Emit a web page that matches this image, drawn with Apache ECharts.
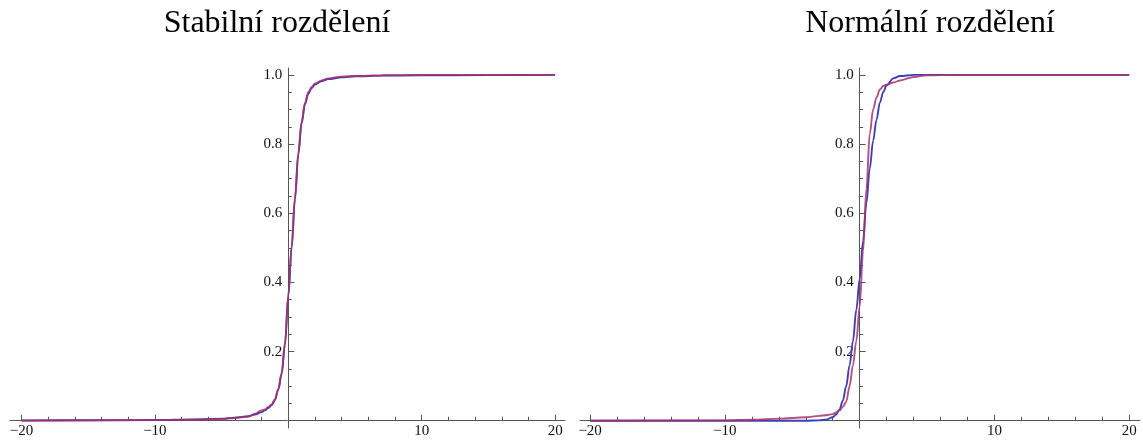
<!DOCTYPE html>
<html>
<head>
<meta charset="utf-8">
<title>Stabilní vs normální rozdělení</title>
<script src="https://cdn.jsdelivr.net/npm/echarts@6/dist/echarts.min.js"></script>
<style>
  html, body { margin: 0; padding: 0; background: #fff; }
  #chart { width: 1143px; height: 443px; }
</style>
</head>
<body>
<div id="chart"></div>
<script>
'use strict';

// levý graf - stabilní rozdělení
const stabX = [-20, -15, -10, -7, -5, -4, -3, -2.5, -2, -1.75, -1.5, -1.25, -1, -0.75, -0.5, -0.25, 0,
  0.25, 0.5, 0.75, 1, 1.25, 1.5, 1.75, 2, 2.5, 3, 4, 5, 7, 10, 15, 20];
const stabTheory = [0.001, 0.0015, 0.002, 0.004, 0.006, 0.009, 0.013, 0.018, 0.025, 0.03, 0.037, 0.045, 0.06,
  0.09, 0.135, 0.22, 0.36, 0.5, 0.64, 0.77, 0.86, 0.915, 0.945, 0.962, 0.972, 0.982, 0.988, 0.993, 0.996,
  0.998, 0.999, 0.9995, 1.0];
const stabSample = [0, 0.001, 0.002, 0.003, 0.005, 0.008, 0.012, 0.02, 0.03, 0.033, 0.04, 0.047, 0.062,
  0.092, 0.138, 0.225, 0.365, 0.505, 0.645, 0.775, 0.865, 0.92, 0.95, 0.965, 0.975, 0.984, 0.99, 0.995, 0.997,
  0.999, 1, 1, 1];

// pravý graf - normální rozdělení
const normX = [-20, -10, -8, -6, -4, -3, -2.5, -2, -1.75, -1.5, -1.25, -1, -0.75, -0.5, -0.25, 0,
  0.25, 0.5, 0.75, 1, 1.25, 1.5, 1.75, 2, 2.5, 3, 4, 5, 7, 10, 20];
const normTheory = [0, 0, 0, 0, 0, 0.001, 0.003, 0.01, 0.018, 0.032, 0.058, 0.1, 0.16, 0.23, 0.32, 0.41,
  0.52, 0.63, 0.73, 0.81, 0.87, 0.92, 0.95, 0.97, 0.99, 0.997, 1, 1, 1, 1, 1];
const normSample = [0, 0.001, 0.003, 0.006, 0.01, 0.014, 0.016, 0.019, 0.024, 0.03, 0.04, 0.055, 0.1, 0.16,
  0.23, 0.33, 0.49, 0.67, 0.83, 0.9, 0.935, 0.958, 0.968, 0.972, 0.978, 0.984, 0.994, 0.999, 1, 1, 1];

// popisky os
const titles = ['Stabilní rozdělení', 'Normální rozdělení'];
const xMajor = [-20, -10, 10, 20];
const xMinor = [-18, -16, -14, -12, -8, -6, -4, -2, 2, 4, 6, 8, 12, 14, 16, 18];
const yMajor = [0.2, 0.4, 0.6, 0.8, 1.0];
const yMinor = [0.05, 0.1, 0.15, 0.25, 0.3, 0.35, 0.45, 0.5, 0.55, 0.65, 0.7, 0.75, 0.85, 0.9, 0.95];

const SERIF = 'Liberation Serif, Times New Roman, serif';
const AXIS_COLOR = '#555';
const BLUE = '#3f3fb5';
const RED = '#a3336b';
const Y_MIN = -0.021, Y_MAX = 1.02;
const TOP = 68, HEIGHT = 360;

function zip(xs, ys) {
  return xs.map(function (x, i) { return [x, ys[i]]; });
}

// pozice dvou panelů
const panels = [
  { left: 10, width: 555, xmin: -20.86, xmax: 20.74, titleX: 272 },
  { left: 580, width: 560, xmin: -20.75, xmax: 20.8, titleX: 925 }
];

const grids = [];
const xAxes = [];
const yAxes = [];

// osy se kříží v nule -> posun přes offset (popisky jdou s osou)
function addAxes(p, minor) {
  const gi = grids.length;
  const zeroX = p.width * (-p.xmin) / (p.xmax - p.xmin);
  const zeroY = HEIGHT * (-Y_MIN) / (Y_MAX - Y_MIN);
  grids.push({ left: p.left, width: p.width, top: TOP, height: HEIGHT, outerBoundsMode: 'none' });
  xAxes.push({
    gridIndex: gi, type: 'value', min: p.xmin, max: p.xmax,
    position: 'bottom', offset: -zeroY,
    splitLine: { show: false },
    axisLine: { show: !minor, onZero: false, lineStyle: { color: AXIS_COLOR, width: 1 } },
    axisTick: {
      show: true, inside: true, length: minor ? 4 : 6,
      customValues: minor ? xMinor : xMajor,
      lineStyle: { color: AXIS_COLOR }
    },
    axisLabel: {
      show: !minor, customValues: xMajor, margin: 3,
      fontFamily: SERIF, fontSize: 15, color: '#111',
      formatter: function (v) { return String(v).replace('-', '\u2212'); }
    }
  });
  yAxes.push({
    gridIndex: gi, type: 'value', min: Y_MIN, max: Y_MAX,
    position: 'left', offset: -zeroX,
    splitLine: { show: false },
    axisLine: { show: !minor, onZero: false, lineStyle: { color: AXIS_COLOR, width: 1 } },
    axisTick: {
      show: true, inside: true, length: minor ? 3.5 : 6,
      customValues: minor ? yMinor : yMajor,
      lineStyle: { color: AXIS_COLOR }
    },
    axisLabel: {
      show: !minor, customValues: yMajor, margin: 6,
      fontFamily: SERIF, fontSize: 15, color: '#111',
      formatter: function (v) { return v.toFixed(1); }
    }
  });
  return gi;
}

const g0 = addAxes(panels[0], false);
const g1 = addAxes(panels[1], false);
addAxes(panels[0], true);
addAxes(panels[1], true);

function lineSeries(gi, xs, ys, color, opacity) {
  return {
    type: 'line', xAxisIndex: gi, yAxisIndex: gi,
    data: zip(xs, ys),
    showSymbol: false, smooth: 0.35, smoothMonotone: 'x',
    lineStyle: { color: color, width: 1.9, opacity: opacity },
    itemStyle: { color: color },
    animation: false
  };
}

const chart = echarts.init(document.getElementById('chart'));
chart.setOption({
  backgroundColor: '#fff',
  animation: false,
  title: panels.map(function (p, i) {
    return {
      text: titles[i], left: p.titleX, top: 3, textAlign: 'center',
      textStyle: { fontFamily: SERIF, fontSize: 32, fontWeight: 'normal', color: '#000' }
    };
  }),
  grid: grids,
  xAxis: xAxes,
  yAxis: yAxes,
  series: [
    lineSeries(g0, stabX, stabTheory, BLUE, 1),
    lineSeries(g0, stabX, stabSample, RED, 0.85),
    lineSeries(g1, normX, normTheory, BLUE, 1),
    lineSeries(g1, normX, normSample, RED, 0.85)
  ]
});
</script>
</body>
</html>
